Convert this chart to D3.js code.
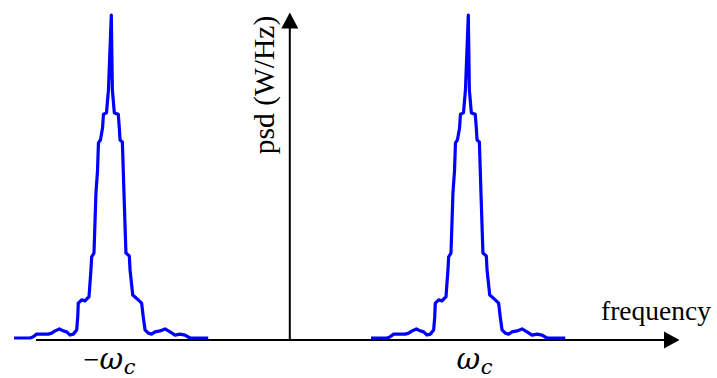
<!DOCTYPE html>
<html>
<head>
<meta charset="utf-8">
<script src="https://cdn.jsdelivr.net/npm/d3@7"></script>
<style>
  body { margin: 0; background: #fff; }
  svg { display: block; }
  text { font-family: "Liberation Serif", "Times New Roman", serif; fill: #000; }
</style>
</head>
<body>
<svg id="chart" width="717" height="378"></svg>
<script>
// carrier frequency, plotted at -fc and +fc
const carriers = [-100, 100]
const carrierLabels = ["\u2212", ""]

// spectrum shape around a carrier: offset from carrier and normalised psd
const offsets = [-54.5, -45.5, -44.0, -41.8, -38.1, -35.3, -33.4, -31.5, -29.1, -26.9,
                 -25.0, -23.1, -21.3, -19.4, -18.8, -18.5, -16.6, -14.7, -13.2, -12.5,
                 -11.4, -11.0, -9.7, -8.6, -7.7, -7.2, -6.1, -4.9, -4.4, -2.7, -1.6, 0,
                 0.6, 1.7, 3.9, 4.5, 4.9, 6.2, 6.7, 7.1, 8.2, 10.1, 10.5, 12.0, 13.3,
                 15.1, 17.0, 17.9, 18.9, 20.7, 22.6, 24.5, 27.3, 30.1, 32.9, 35.7, 38.5,
                 41.3, 44.1, 54.3]
const psd = [0, 0, 0.003, 0.012, 0.012, 0.012, 0.015, 0.022, 0.028, 0.022,
             0.019, 0.009, 0.012, 0.025, 0.065, 0.108, 0.118, 0.115, 0.124, 0.127,
             0.211, 0.251, 0.263, 0.449, 0.520, 0.604, 0.613, 0.650, 0.693, 0.697, 0.768, 1.0,
             0.768, 0.697, 0.693, 0.650, 0.613, 0.607, 0.520, 0.449, 0.263, 0.254, 0.211, 0.133, 0.127,
             0.118, 0.108, 0.065, 0.025, 0.015, 0.012, 0.019, 0.022, 0.028, 0.019, 0.009, 0.012,
             0.009, 0, 0]

const xLabel = "frequency"
const yLabel = "psd (W/Hz)"

const svg = d3.select("#chart")

const x = d3.scaleLinear().domain([-100, 100]).range([111.3, 468.3])
const y = d3.scaleLinear().domain([0, 1]).range([338, 15])

const axisY = y(0) + 2
const x0 = x(0)

// axes with arrow heads
svg.append("line")
    .attr("x1", 36).attr("x2", 667)
    .attr("y1", axisY).attr("y2", axisY)
    .attr("stroke", "#000").attr("stroke-width", 2)
svg.append("path")
    .attr("d", `M679.5,${axisY} L664,${axisY - 8.5} L664,${axisY + 8.5} Z`)
    .attr("fill", "#000")

svg.append("line")
    .attr("x1", x0).attr("x2", x0)
    .attr("y1", axisY).attr("y2", 26)
    .attr("stroke", "#000").attr("stroke-width", 2)
svg.append("path")
    .attr("d", `M${x0},12.5 L${x0 - 8.5},28.5 L${x0 + 8.5},28.5 Z`)
    .attr("fill", "#000")

// spectrum around each carrier
const shape = offsets.map((o, i) => ({off: o, v: psd[i]}))
const line = d3.line()
    .x(d => d.x)
    .y(d => y(d.v))

carriers.forEach(fc => {
    svg.append("path")
        .datum(shape.map(d => ({x: x(fc + d.off), v: d.v})))
        .attr("d", line)
        .attr("fill", "none")
        .attr("stroke", "#0000ff")
        .attr("stroke-width", 3.2)
        .attr("stroke-linejoin", "round")
})

// labels
svg.append("text")
    .attr("x", 601).attr("y", 320)
    .style("font-size", "27.5px")
    .text(xLabel)

svg.append("text")
    .attr("transform", `translate(274,85) rotate(-90)`)
    .attr("text-anchor", "middle")
    .style("font-size", "29.5px")
    .text(yLabel)

carriers.forEach((fc, i) => {
    const cx = x(fc)
    if (carrierLabels[i]) {
        svg.append("text")
            .attr("x", cx - 12).attr("y", 369)
            .attr("text-anchor", "end")
            .style("font-size", "28px")
            .text(carrierLabels[i])
    }
    svg.append("text")
        .attr("x", cx).attr("y", 369)
        .attr("text-anchor", "middle")
        .style("font-family", "'DejaVu Serif', serif")
        .style("font-size", "29px")
        .style("font-style", "italic")
        .text("\u03c9")
    svg.append("text")
        .attr("x", cx + 12.5).attr("y", 374)
        .style("font-family", "'DejaVu Serif', serif")
        .style("font-size", "21px")
        .style("font-style", "italic")
        .text("c")
})
</script>
</body>
</html>
